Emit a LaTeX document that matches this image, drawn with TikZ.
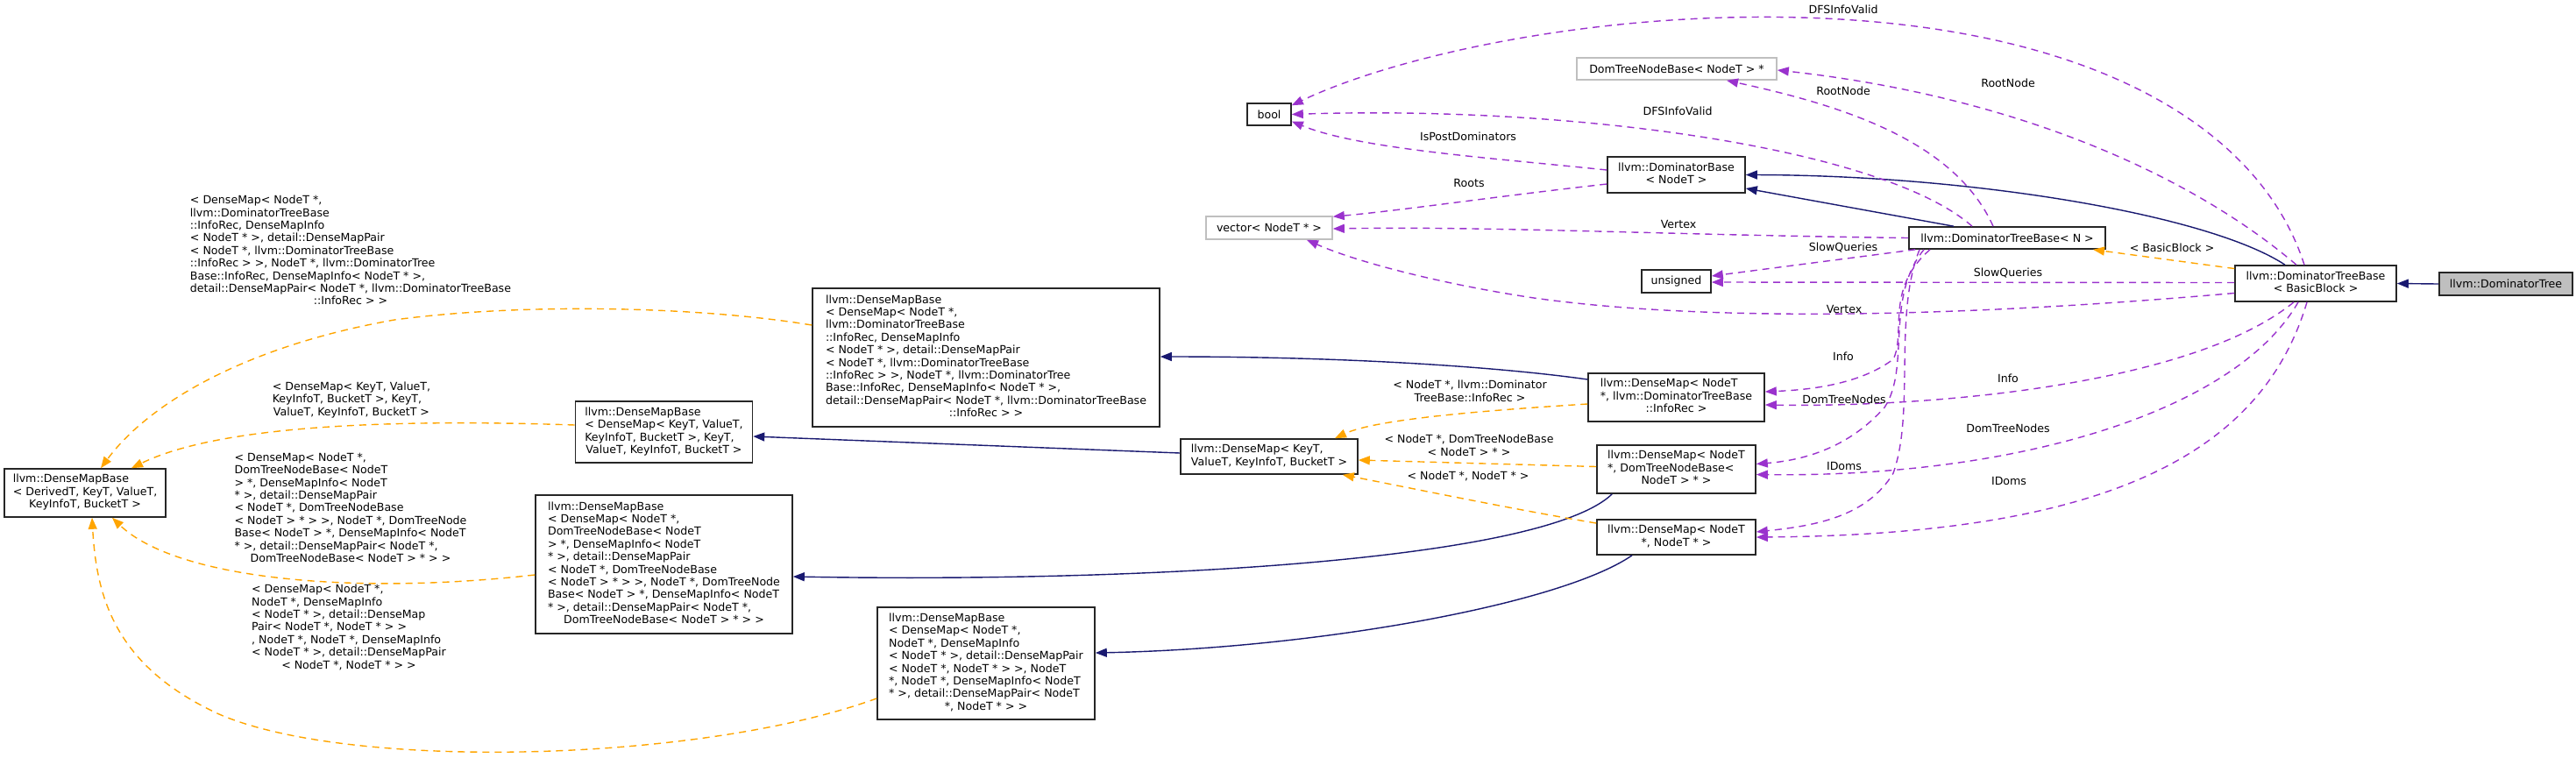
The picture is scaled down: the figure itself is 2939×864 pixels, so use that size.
\documentclass[tikz,border=0pt]{standalone}
\usepackage{fontspec}
\setmainfont{DejaVu Sans}
\usetikzlibrary{arrows.meta,calc}
\definecolor{navyc}{HTML}{191970}
\definecolor{orangec}{HTML}{FFA500}
\definecolor{purplec}{HTML}{9A32CD}
\definecolor{grayc}{HTML}{BFBFBF}
\newcommand\dfont{\fontsize{6.3}{7.2}\selectfont}
\newcommand\ml[2]{\begin{tabular}{@{}l@{}}#1\\\multicolumn{1}{@{}c@{}}{#2}\end{tabular}}
\begin{document}
\begin{tikzpicture}[x=0.5pt,y=-0.5pt,
  box/.style={draw=black!85, line width=0.8pt, fill=white, inner sep=0pt, font=\dfont},
  gbox/.style={box, draw=grayc},
  lab/.style={inner sep=0pt, font=\dfont},
  tip/.style={-{Triangle[length=6.5pt,width=5pt]}},
  inh/.style={tip, draw=navyc, line width=0.7pt},
  tpl/.style={tip, draw=orangec, line width=0.7pt, dash pattern=on 4pt off 3pt},
  mem/.style={tip, draw=purplec, line width=0.7pt, dash pattern=on 4pt off 3pt}]
\useasboundingbox (0,0) rectangle (2939,864);
% nodes
\node[box, fill=grayc, minimum width=76pt, minimum height=13pt] (n1) at (2859,324) {llvm::DominatorTree};
\node[box, minimum width=92pt, minimum height=20.5pt] (n2) at (2642,323.5) {\ml{llvm::DominatorTreeBase}{< BasicBlock >}};
\node[box, minimum width=112pt, minimum height=12.5pt] (n3) at (2290,271.5) {llvm::DominatorTreeBase< N >};
\node[box, minimum width=78.5pt, minimum height=20.5pt] (n4) at (1912.5,199.5) {\ml{llvm::DominatorBase}{< NodeT >}};
\node[box, minimum width=25pt, minimum height=12.5pt] (n5) at (1448,130.5) {bool};
\node[gbox, minimum width=114pt, minimum height=12.5pt] (n6) at (1913,78.5) {DomTreeNodeBase< NodeT > *};
\node[gbox, minimum width=72pt, minimum height=13pt] (n7) at (1448,260) {vector< NodeT * >};
\node[box, minimum width=39.5pt, minimum height=13pt] (n8) at (1912.5,321) {unsigned};
\node[box, minimum width=100.5pt, minimum height=27.5pt] (n9) at (1912.5,453.5) {\ml{llvm::DenseMap< NodeT\\{}*, llvm::DominatorTreeBase}{::InfoRec >}};
\node[box, minimum width=90.5pt, minimum height=27.5pt] (n10) at (1912.5,535.5) {\ml{llvm::DenseMap< NodeT\\{}*, DomTreeNodeBase<}{NodeT > * >}};
\node[box, minimum width=90.5pt, minimum height=20pt] (n11) at (1912.5,613) {\ml{llvm::DenseMap< NodeT}{*, NodeT * >}};
\node[box, minimum width=101pt, minimum height=20pt] (n12) at (1448,521) {\ml{llvm::DenseMap< KeyT,}{ValueT, KeyInfoT, BucketT >}};
\node[box, minimum width=101pt, minimum height=35pt] (n13) at (757.5,493) {\ml{llvm::DenseMapBase\\< DenseMap< KeyT, ValueT,\\KeyInfoT, BucketT >, KeyT,}{ValueT, KeyInfoT, BucketT >}};
\node[box, minimum width=198pt, minimum height=79pt] (n14) at (1125,408) {\ml{llvm::DenseMapBase\\< DenseMap< NodeT *,\\ llvm::DominatorTreeBase\\::InfoRec, DenseMapInfo\\< NodeT * >, detail::DenseMapPair\\< NodeT *, llvm::DominatorTreeBase\\::InfoRec > >, NodeT *, llvm::DominatorTree\\Base::InfoRec, DenseMapInfo< NodeT * >,\\ detail::DenseMapPair< NodeT *, llvm::DominatorTreeBase}{::InfoRec > >}};
\node[box, minimum width=146.5pt, minimum height=79pt] (n15) at (757.5,644) {\ml{llvm::DenseMapBase\\< DenseMap< NodeT *,\\DomTreeNodeBase< NodeT\\> *, DenseMapInfo< NodeT\\{}* >, detail::DenseMapPair\\< NodeT *, DomTreeNodeBase\\< NodeT > * > >, NodeT *, DomTreeNode\\Base< NodeT > *, DenseMapInfo< NodeT\\{}* >, detail::DenseMapPair< NodeT *,}{DomTreeNodeBase< NodeT > * > >}};
\node[box, minimum width=124pt, minimum height=64pt] (n16) at (1125,757) {\ml{llvm::DenseMapBase\\< DenseMap< NodeT *,\\NodeT *, DenseMapInfo\\< NodeT * >, detail::DenseMapPair\\< NodeT *, NodeT * > >, NodeT\\{}*, NodeT *, DenseMapInfo< NodeT\\{}* >, detail::DenseMapPair< NodeT}{*, NodeT * > >}};
\node[box, minimum width=92pt, minimum height=27.5pt] (n17) at (97,562.5) {\ml{llvm::DenseMapBase\\< DerivedT, KeyT, ValueT,}{KeyInfoT, BucketT >}};
% inheritance
\draw[inh] (n1.west) -- (n2.east);
\draw[inh] ($(n2.north)+(-35,0)$) .. controls (2520,245) and (2250,200) .. (n4.east);
\draw[inh] ($(n3.north)+(-61,0)$) -- ($(n4.east)+(0,15.5)$);
\draw[inh] ($(n12.west)+(0,-4)$) -- ($(n13.east)+(0,5)$);
\draw[inh] ($(n9.west)+(0,-20.5)$) .. controls (1720,420) and (1550,407) .. ($(n14.east)+(0,-1)$);
\draw[inh] ($(n10.south west)+(18,0)$) .. controls (1760,640) and (1300,665) .. ($(n15.east)+(0,14)$);
\draw[inh] ($(n11.south)+(-50.5,0)$) .. controls (1780,690) and (1500,740) .. ($(n16.east)+(0,-12)$);
% template instances
\draw[tpl] ($(n2.west)+(0,-17)$) -- ($(n3.south)+(98,0)$);
\draw[tpl] ($(n9.west)+(0,7.5)$) .. controls (1700,468) and (1570,478) .. ($(n12.north)+(75,0)$);
\draw[tpl] ($(n10.west)+(0,-3)$) -- ($(n12.east)+(0,4)$);
\draw[tpl] ($(n11.west)+(0,-16)$) .. controls (1720,580) and (1600,555) .. ($(n12.south east)+(-18,0)$);
\draw[tpl] ($(n14.west)+(0,-37)$) .. controls (800,350) and (600,345) .. (450,365) .. controls (280,395) and (170,460) .. ($(n17.north)+(18,0)$);
\draw[tpl] ($(n13.west)+(0,-8)$) .. controls (450,478) and (250,485) .. ($(n17.north)+(53,0)$);
\draw[tpl] ($(n15.west)+(0,12)$) .. controls (400,680) and (200,660) .. ($(n17.south)+(31,0)$);
\draw[tpl] ($(n16.west)+(0,40)$) .. controls (800,870) and (400,880) .. (250,815) .. controls (130,760) and (110,680) .. ($(n17.south)+(8,0)$);
% members
\draw[mem] ($(n4.west)+(0,-5.5)$) .. controls (1700,180) and (1550,170) .. ($(n5.east)+(0,8)$);
\draw[mem] ($(n4.west)+(0,10.5)$) .. controls (1700,225) and (1600,240) .. ($(n7.north east)+(0,1)$);
\draw[mem] ($(n3.north)+(-40,0)$) .. controls (2150,170) and (1800,120) .. (n5.east);
\draw[mem] ($(n2.north)+(-13,0)$) .. controls (2580,150) and (2400,40) .. (2100,22) .. controls (1850,7) and (1600,60) .. ($(n5.north east)+(0,3)$);
\draw[mem] ($(n3.north)+(-16,0)$) .. controls (2230,160) and (2100,120) .. ($(n6.south)+(57,0)$);
\draw[mem] ($(n2.north)+(-22,0)$) .. controls (2500,200) and (2300,110) .. ($(n6.east)+(0,1.5)$);
\draw[mem] (n3.west) .. controls (1900,268) and (1700,258) .. ($(n7.east)+(0,1)$);
\draw[mem] ($(n2.west)+(0,11)$) .. controls (2350,352) and (2000,375) .. (1750,340) .. controls (1650,325) and (1550,300) .. ($(n7.south)+(43,0)$);
\draw[mem] ($(n3.south west)+(8,0)$) -- ($(n8.east)+(0,-6)$);
\draw[mem] ($(n2.west)+(0,-1)$) -- ($(n8.east)+(0,1)$);
\draw[mem] ($(n3.south)+(-88,0)$) .. controls (2150,330) and (2175,380) .. (2160,410) .. controls (2120,440) and (2060,445) .. ($(n9.east)+(0,-6.5)$);
\draw[mem] ($(n2.south)+(-25,0)$) .. controls (2500,440) and (2200,465) .. ($(n9.east)+(0,8.5)$);
\draw[mem] ($(n3.south)+(-95,0)$) .. controls (2150,340) and (2180,420) .. (2150,465) .. controls (2110,510) and (2060,525) .. ($(n10.east)+(0,-6)$);
\draw[mem] ($(n2.south)+(-20,0)$) .. controls (2550,470) and (2300,545) .. ($(n10.east)+(0,6)$);
\draw[mem] ($(n3.south)+(-100,0)$) .. controls (2160,360) and (2185,470) .. (2160,540) .. controls (2130,590) and (2070,600) .. ($(n11.east)+(0,-6)$);
\draw[mem] ($(n2.south)+(-10,0)$) .. controls (2580,520) and (2400,610) .. (n11.east);
% labels
\node[lab] (l1) at (2103,11) {DFSInfoValid};
\node[lab] (l2) at (2291,95) {RootNode};
\node[lab] (l3) at (2103,104) {RootNode};
\node[lab] (l4) at (1914,127) {DFSInfoValid};
\node[lab] (l5) at (1675,156) {IsPostDominators};
\node[lab] (l6) at (1676,209) {Roots};
\node[lab] (l7) at (1915,256) {Vertex};
\node[lab] (l8) at (2103,283) {SlowQueries};
\node[lab] (l9) at (2291,312) {SlowQueries};
\node[lab] (l10) at (2478,283) {< BasicBlock >};
\node[lab] (l11) at (2104,353) {Vertex};
\node[lab] (l12) at (2103,407) {Info};
\node[lab] (l13) at (2291,432) {Info};
\node[lab] (l14) at (2104,456) {DomTreeNodes};
\node[lab] (l15) at (2291,489) {DomTreeNodes};
\node[lab] (l16) at (2104,532) {IDoms};
\node[lab] (l17) at (2292,549) {IDoms};
\node[lab] (l18) at (1677,448) {\ml{< NodeT *, llvm::Dominator}{TreeBase::InfoRec >}};
\node[lab] (l19) at (1676,510) {\ml{< NodeT *, DomTreeNodeBase}{< NodeT > * >}};
\node[lab] (l20) at (1675,543) {< NodeT *, NodeT * >};
\node[lab] (l21) at (400,287.5) {\ml{< DenseMap< NodeT *,\\ llvm::DominatorTreeBase\\::InfoRec, DenseMapInfo\\< NodeT * >, detail::DenseMapPair\\< NodeT *, llvm::DominatorTreeBase\\::InfoRec > >, NodeT *, llvm::DominatorTree\\Base::InfoRec, DenseMapInfo< NodeT * >,\\ detail::DenseMapPair< NodeT *, llvm::DominatorTreeBase}{::InfoRec > >}};
\node[lab] (l22) at (401,457) {\ml{< DenseMap< KeyT, ValueT,\\KeyInfoT, BucketT >, KeyT,}{ValueT, KeyInfoT, BucketT >}};
\node[lab] (l23) at (400,581) {\ml{< DenseMap< NodeT *,\\DomTreeNodeBase< NodeT\\> *, DenseMapInfo< NodeT\\{}* >, detail::DenseMapPair\\< NodeT *, DomTreeNodeBase\\< NodeT > * > >, NodeT *, DomTreeNode\\Base< NodeT > *, DenseMapInfo< NodeT\\{}* >, detail::DenseMapPair< NodeT *,}{DomTreeNodeBase< NodeT > * > >}};
\node[lab] (l24) at (398,717) {\ml{< DenseMap< NodeT *,\\NodeT *, DenseMapInfo\\< NodeT * >, detail::DenseMap\\Pair< NodeT *, NodeT * > >\\, NodeT *, NodeT *, DenseMapInfo\\< NodeT * >, detail::DenseMapPair}{< NodeT *, NodeT * > >}};
\end{tikzpicture}
\end{document}
